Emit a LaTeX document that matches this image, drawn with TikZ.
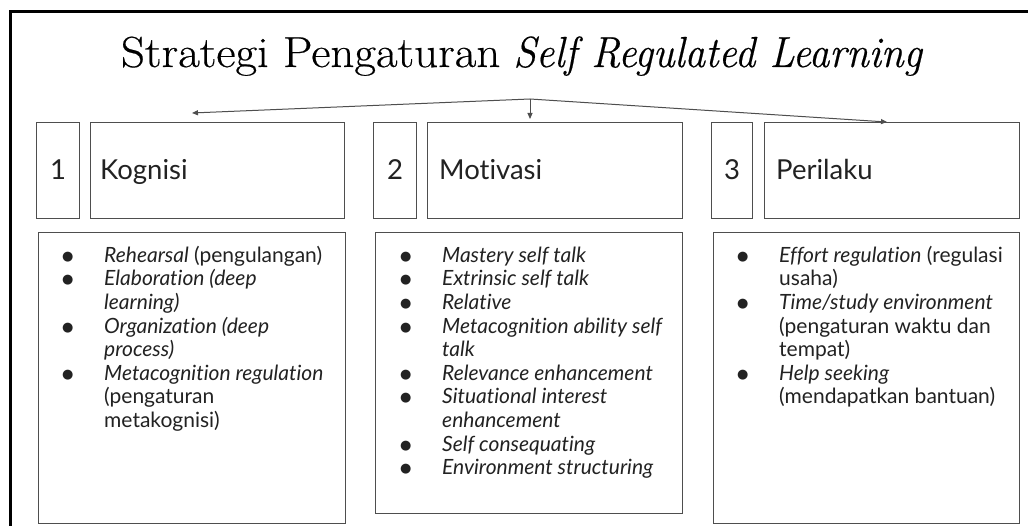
\documentclass[tikz,border=0pt]{standalone}
\usepackage{fontspec}
\usetikzlibrary{arrows.meta,calc}
\newfontfamily\latofont[Ligatures={NoCommon}]{Lato}
\newfontfamily\symfont{DejaVu Sans}
\newfontfamily\titlefont[FakeBold=0.4]{Latin Modern Roman}
\definecolor{boxline}{HTML}{4E4E4E}
\definecolor{ink}{HTML}{222222}
% bullet cell and continuation indent for the strategy lists
\newcommand\itembul{\makebox[66pt][l]{\hspace{24pt}\raisebox{2pt}{\symfont\fontsize{13}{13}\selectfont ●}}}
\newcommand\itemgap{\hspace*{66pt}}
\tikzset{
  frame/.style={line width=3pt, draw=black, line join=miter},
  panel/.style={draw=boxline, line width=1.1pt, inner sep=0pt, anchor=north west},
  link/.style={draw=boxline, line width=1pt, -{Triangle[length=6pt,width=5pt]}},
  hdr/.style={font=\latofont\fontsize{27.5}{31}\selectfont, text=ink, inner sep=0pt, anchor=base west},
  numlabel/.style={font=\latofont\fontsize{27.5}{31}\selectfont, text=ink, inner sep=0pt, anchor=base},
  items/.style={font=\latofont\fontsize{21}{23.6}\selectfont, text=ink, align=left, inner sep=0pt, anchor=north west},
  ttl/.style={font=\titlefont\fontsize{43.5}{48}\selectfont, text=black, inner sep=0pt, anchor=base}
}
\begin{document}
\begin{tikzpicture}[x=1pt,y=-1pt]
\useasboundingbox (0,0) rectangle (1028,526);
\fill[white] (0,0) rectangle (1028,526);

% outer frame (left and top edges)
\draw[frame] (10.5,526) -- (10.5,12) -- (1028,12);

% title
\node[ttl] (title) at (522,67) {\scalebox{1.08}[1]{Strategi Pengaturan} \scalebox{0.94}[1]{\textit{Self Regulated Learning}}};

% header boxes
\node[panel, minimum width=43pt, minimum height=96pt] (n1) at (36,122) {};
\node[panel, minimum width=254pt, minimum height=96pt] (kog) at (90,122) {};
\node[panel, minimum width=43pt, minimum height=96pt] (n2) at (373,122) {};
\node[panel, minimum width=255pt, minimum height=96pt] (mot) at (427,122) {};
\node[panel, minimum width=41pt, minimum height=96pt] (n3) at (711,122) {};
\node[panel, minimum width=255pt, minimum height=96pt] (per) at (764,122) {};

\node[numlabel] (l1) at ($(n1.north)+(0,57.5)$) {1};
\node[numlabel] (l2) at ($(n2.north)+(0,57.5)$) {2};
\node[numlabel] (l3) at ($(n3.north)+(0,57.5)$) {3};
\node[hdr] (tkog) at ($(kog.north west)+(10,58)$) {Kognisi};
\node[hdr] (tmot) at ($(mot.north west)+(12,58)$) {Motivasi};
\node[hdr] (tper) at ($(per.north west)+(12,58)$) {Perilaku};

% list boxes
\node[panel, minimum width=307pt, minimum height=291pt] (bkog) at (38,232) {};
\node[panel, minimum width=307pt, minimum height=281pt] (bmot) at (375,232) {};
\node[panel, minimum width=306pt, minimum height=291pt] (bper) at (713,232) {};

\node[items] (lkog) at ($(bkog.north west)+(0,13.5)$) {%
\itembul\strut\textit{Rehearsal} (pengulangan)\\
\itembul\textit{Elaboration (deep}\\
\itemgap\textit{learning)}\\
\itembul\textit{Organization (deep}\\
\itemgap\textit{process)}\\
\itembul\textit{Metacognition regulation}\\
\itemgap(pengaturan\\
\itemgap metakognisi)};

\node[items] (lmot) at ($(bmot.north west)+(1,13.5)$) {%
\itembul\strut\textit{Mastery self talk}\\
\itembul\textit{Extrinsic self talk}\\
\itembul\textit{Relative}\\
\itembul\textit{Metacognition ability self}\\
\itemgap\textit{talk}\\
\itembul\textit{Relevance enhancement}\\
\itembul\textit{Situational interest}\\
\itemgap\textit{enhancement}\\
\itembul\textit{Self consequating}\\
\itembul\textit{Environment structuring}};

\node[items] (lper) at ($(bper.north west)+(0,13.5)$) {%
\itembul\strut\textit{Effort regulation} (regulasi\\
\itemgap usaha)\\
\itembul\textit{Time/study environment}\\
\itemgap(pengaturan waktu dan\\
\itemgap tempat)\\
\itembul\textit{Help seeking}\\
\itemgap(mendapatkan bantuan)};

% branching arrows from the title
\coordinate (hub) at (530,99);
\coordinate (tipL) at (192,113);
\coordinate (tipM) at (530,119);
\coordinate (tipR) at (887,122);
\draw[link] (hub) -- (tipL);
\draw[link] (hub) -- (tipM);
\draw[link] (hub) -- (tipR);
\end{tikzpicture}
\end{document}
